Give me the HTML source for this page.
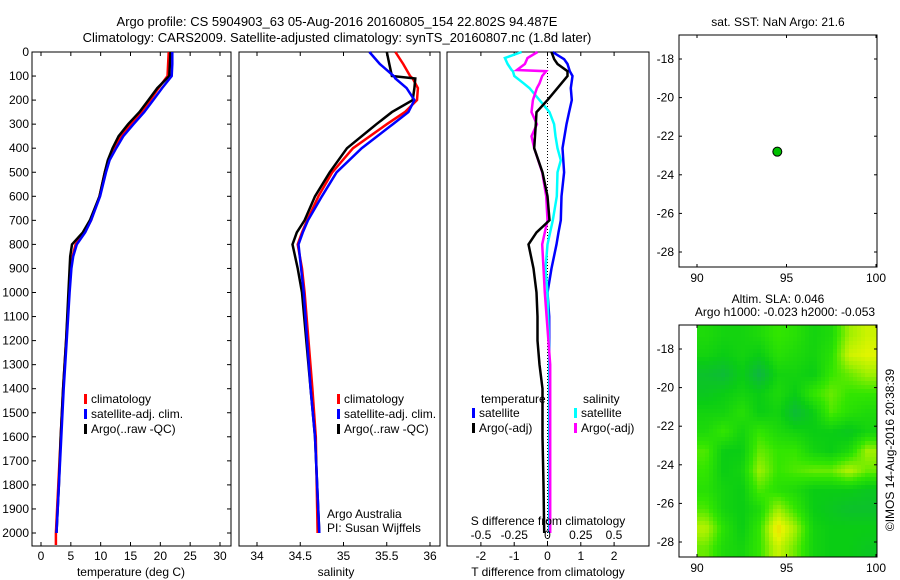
<!DOCTYPE html>
<html><head><meta charset="utf-8"><style>
body{margin:0;background:#fff}
svg{display:block;font-family:"Liberation Sans",sans-serif}
text{font-size:12px;fill:#000}
</style></head><body>
<svg id="fig" width="900" height="580" viewBox="0 0 900 580">
<text x="337" y="26" text-anchor="middle" style="font-size:13px">Argo profile: CS 5904903_63 05-Aug-2016 20160805_154 22.802S 94.487E</text>
<text x="337" y="42" text-anchor="middle" style="font-size:13px">Climatology: CARS2009. Satellite-adjusted climatology: synTS_20160807.nc (1.8d later)</text>
<g id="g"></g>
</svg>
<script>
// ---------- data ----------
const depthTicks=[0,100,200,300,400,500,600,700,800,900,1000,1100,1200,1300,1400,1500,1600,1700,1800,1900,2000];
const tTicks=[0,5,10,15,20,25,30];
const sTicks=[34,34.5,35,35.5,36];
const dTTicks=[-2,-1,0,1,2];
const dSTicks=[-0.5,-0.25,0,0.25,0.5];
const dSTickLabels=["-0.5","-0.25","0","0.25","0.5"];
const lonTicks=[90,95,100];
const latTicks=[-18,-20,-22,-24,-26,-28];

const depthT=[0,50,100,150,200,250,300,350,400,450,500,600,700,750,800,850,900,1000,1200,1400,1600,1800,2000,2050];
const tempArgo=[21.7,21.6,21.5,19.5,18,16.5,14.6,13,12,11.2,10.7,9.8,8.2,7,5.2,4.9,4.8,4.6,4.2,3.7,3.3,3.0,2.6,2.6];
const tempClim=[21.4,21.3,21.2,19.7,18.3,16.8,15,13.4,12.3,11.3,10.7,9.8,8.4,7.3,5.8,5.3,5.0,4.7,4.2,3.7,3.3,2.9,2.5,2.5];
const tempSat=[22,22,21.9,20.3,18.8,17.3,15.5,13.8,12.6,11.5,10.9,9.9,8.4,7.4,6.0,5.4,5.1,4.8,4.3,3.8,3.4,3.0,2.6,2.6];

const depthS=[0,50,100,110,150,200,250,300,400,500,600,700,750,800,900,1000,1400,1600,2000];
const salArgo=[35.50,35.53,35.56,35.83,35.82,35.80,35.56,35.38,35.04,34.84,34.67,34.55,34.46,34.41,34.47,34.52,34.62,34.67,34.72];
const salClim=[35.60,35.69,35.77,35.80,35.86,35.85,35.71,35.50,35.11,34.87,34.71,34.58,34.52,34.47,34.52,34.55,34.64,34.68,34.70];
const salSat=[35.30,35.42,35.58,35.60,35.73,35.82,35.75,35.57,35.21,34.92,34.75,34.59,34.53,34.48,34.51,34.54,34.62,34.67,34.72];

const depthDT=[0,30,50,80,100,150,200,250,300,400,500,600,700,750,800,900,1000,1100,1200,1300,1400,1600,1800,2000];
const dTSat=[0.15,0.5,0.6,0.67,0.75,0.7,0.73,0.65,0.57,0.45,0.5,0.42,0.4,0.33,0.27,0.12,0.0,0.05,0.05,0.05,0.05,0.05,0.05,0.05];
const dTArgo=[0.12,0.2,0.3,0.6,0.6,0.3,0.0,-0.33,-0.35,-0.4,-0.15,0.0,0.06,-0.33,-0.57,-0.42,-0.33,-0.3,-0.3,-0.24,-0.15,-0.15,-0.12,-0.1];

const depthDS=[0,25,50,75,80,100,130,150,200,250,300,350,400,450,500,600,700,800,900,1000,1300,1600,2000];
const dSSat=[-0.195,-0.32,-0.3,-0.27,-0.26,-0.25,-0.18,-0.135,-0.06,0.015,0.05,0.06,0.075,0.1,0.075,0.07,0.04,0.0,-0.015,0.0,0.015,0.015,0.015];
const dSArgo=[-0.075,-0.15,-0.17,-0.23,-0.01,-0.04,-0.06,-0.08,-0.11,-0.12,-0.08,-0.12,-0.1,-0.07,-0.04,-0.01,0.0,-0.04,-0.03,-0.02,0.02,0.02,0.02];

const floatLon=94.487, floatLat=-22.802;
const slaLons=[90.5,91.5,92.5,93.5,94.5,95.5,96.5,97.5,98.5,99.5];
const slaLats=[-17.3,-18.3,-19.3,-20.3,-21.3,-22.3,-23.3,-24.3,-25.3,-26.3,-27.3,-28.3];
const slaGrid=[
[0.4,0.35,0.35,0.4,0.5,0.45,0.35,0.4,0.7,0.8],
[0.35,0.3,0.35,0.3,0.45,0.4,0.35,0.45,0.8,0.85],
[0.2,0.15,0.3,0.1,0.35,0.35,0.3,0.5,0.6,0.7],
[0.25,0.3,0.35,0.3,0.4,0.3,0.5,0.6,0.5,0.5],
[0.35,0.35,0.45,0.3,0.35,0.15,0.3,0.55,0.45,0.4],
[0.4,0.5,0.35,0.5,0.4,0.35,0.3,0.3,0.25,0.35],
[0.55,0.3,0.3,0.6,0.5,0.5,0.35,0.3,0.4,0.7],
[0.5,0.3,0.35,0.7,0.5,0.55,0.6,0.6,0.75,0.6],
[0.45,0.35,0.3,0.55,0.45,0.4,0.3,0.3,0.3,0.25],
[0.55,0.35,0.3,0.4,0.7,0.5,0.3,0.25,0.2,0.2],
[0.75,0.45,0.3,0.5,0.95,0.7,0.35,0.3,0.3,0.3],
[0.6,0.4,0.35,0.5,0.8,0.6,0.35,0.3,0.3,0.25]];

// ---------- helpers ----------
const NS="http://www.w3.org/2000/svg";
const G=document.getElementById('g');
function mk(tag,attrs,txt){const e=document.createElementNS(NS,tag);for(const k in attrs)e.setAttribute(k,attrs[k]);if(txt!==undefined)e.textContent=txt;G.appendChild(e);return e;}
const TOP=52,BOT=546;
const yD=d=>TOP+d*(533-52)/2000;
const xT=t=>41+t*(220-41)/30;
const xS=s=>257+(s-34)*(430-257)/2;
const xDT=v=>547.5+v*33.3;
const xDS=v=>547.5+v*133;
const xLon=l=>697+(l-90)*17.9;
const yLat1=l=>59+(-18-l)*19.3;
const yLat2=l=>349+(-18-l)*19.3;

function frame(x0,x1,y0,y1,name){
  const r=mk('rect',{x:x0,y:y0,width:x1-x0,height:y1-y0,fill:'none',stroke:'#000','stroke-width':1});
  
  
}
function line(xs,ds,fx,color,name,w){
  const pts=xs.map((v,i)=>fx(v).toFixed(1)+','+yD(ds[i]).toFixed(1)).join(' ');
  const p=mk('polyline',{points:pts,fill:'none',stroke:color,'stroke-width':w||2.5,'stroke-linejoin':'miter'});
  
  
}
function xticks(ticks,labels,fx,x0,x1,name){
  ticks.forEach((t,i)=>{
    const x=fx(t);
    mk('line',{x1:x,x2:x,y1:BOT,y2:BOT-4,stroke:'#000'});
    mk('line',{x1:x,x2:x,y1:TOP,y2:TOP+4,stroke:'#000'});
    const tx=mk('text',{x:x,y:BOT+14,'text-anchor':'middle'},labels[i]);
    
    
  });
}
function legendEntry(x,y,color,label,name){
  mk('rect',{x:x,y:y-9,width:3,height:10,fill:color});
  const t=mk('text',{x:x+7,y:y},label);
  
  
}

// ---------- panel 1: temperature ----------
frame(32,231,TOP,BOT,'temperature-axes');
depthTicks.forEach(d=>{
  mk('line',{x1:32,x2:36,y1:yD(d),y2:yD(d),stroke:'#000'});
  mk('line',{x1:231,x2:227,y1:yD(d),y2:yD(d),stroke:'#000'});
  const t=mk('text',{x:29,y:yD(d)+4,'text-anchor':'end'},String(d));
  
  
});
xticks(tTicks,tTicks.map(String),xT,32,231,'temperature');
line(tempClim,depthT,xT,'#ff0000','temperature-climatology-line');
line(tempArgo.slice(0,23),depthT.slice(0,23),xT,'#000000','temperature-argo-line');
line(tempSat.slice(0,23),depthT.slice(0,23),xT,'#0000ff','temperature-satellite-line');
mk('text',{x:131,y:576,'text-anchor':'middle'},'temperature (deg C)');
legendEntry(84,403,'#ff0000','climatology','legend-climatology');
legendEntry(84,418,'#0000ff','satellite-adj. clim.','legend-satellite-adj');
legendEntry(84,433,'#000000','Argo(..raw -QC)','legend-argo');

// ---------- panel 2: salinity ----------
frame(239,440,TOP,BOT,'salinity-axes');
xticks(sTicks,sTicks.map(String),xS,239,440,'salinity');
line(salClim,depthS,xS,'#ff0000','salinity-climatology-line');
line(salArgo,depthS,xS,'#000000','salinity-argo-line');
line(salSat,depthS,xS,'#0000ff','salinity-satellite-line');
mk('text',{x:336,y:576,'text-anchor':'middle'},'salinity');
legendEntry(337,403,'#ff0000','climatology','legend-climatology-2');
legendEntry(337,418,'#0000ff','satellite-adj. clim.','legend-satellite-adj-2');
legendEntry(337,433,'#000000','Argo(..raw -QC)','legend-argo-2');
mk('text',{x:327,y:518},'Argo Australia');
mk('text',{x:327,y:532},'PI: Susan Wijffels');

// ---------- panel 3: differences ----------
frame(447,649,TOP,BOT,'difference-axes');
xticks(dTTicks,dTTicks.map(String),xDT,447,649,'t-difference');
mk('line',{x1:547.5,x2:547.5,y1:TOP,y2:BOT,stroke:'#000','stroke-dasharray':'1,2'});
line(dTSat,depthDT,xDT,'#0000ff','t-diff-satellite-line');
line(dSSat,depthDS,xDS,'#00ffff','s-diff-satellite-line');
line(dSArgo,depthDS,xDS,'#ff00ff','s-diff-argo-line');
line(dTArgo,depthDT,xDT,'#000000','t-diff-argo-line');
dSTicks.forEach((t,i)=>{
  const tx=mk('text',{x:xDS(t),y:539,'text-anchor':'middle'},dSTickLabels[i]);
  
  
});
mk('text',{x:548,y:525,'text-anchor':'middle'},'S difference from climatology');
mk('text',{x:548,y:576,'text-anchor':'middle'},'T difference from climatology');
mk('text',{x:481,y:403},'temperature');
mk('text',{x:583,y:403},'salinity');
legendEntry(472,417,'#0000ff','satellite','legend-t-satellite');
legendEntry(472,432,'#000000','Argo(-adj)','legend-t-argo');
legendEntry(574,417,'#00ffff','satellite','legend-s-satellite');
legendEntry(574,432,'#ff00ff','Argo(-adj)','legend-s-argo');

// ---------- map axes ----------
function mapAxes(y0,y1,yLat,name){
  frame(679,877,y0,y1,name);
  lonTicks.forEach(l=>{
    const x=xLon(l);
    mk('line',{x1:x,x2:x,y1:y1,y2:y1-3,stroke:'#000'});
    mk('line',{x1:x,x2:x,y1:y0,y2:y0+3,stroke:'#000'});
    const t=mk('text',{x:x,y:y1+15,'text-anchor':'middle'},String(l));
    
    
  });
  latTicks.forEach(l=>{
    const y=yLat(l);
    mk('line',{x1:679,x2:682,y1:y,y2:y,stroke:'#000'});
    mk('line',{x1:877,x2:874,y1:y,y2:y,stroke:'#000'});
    const t=mk('text',{x:674,y:y+4,'text-anchor':'end'},String(l));
    
    
  });
}
mapAxes(35,267,yLat1,'sst-map-axes');
mk('text',{x:778,y:26,'text-anchor':'middle'},'sat. SST: NaN Argo: 21.6');
const dot=mk('circle',{cx:xLon(floatLon),cy:yLat1(floatLat),r:4.5,fill:'#00c000',stroke:'#000','stroke-width':1});



// ---------- map 2 (SLA), bilinear-smoothed ----------
function slaColor(v){
  const stops=[[0,[16,170,90]],[0.3,[10,205,20]],[0.5,[50,230,0]],[0.7,[160,240,0]],[0.85,[225,245,0]],[1,[245,210,0]]];
  v=Math.max(0,Math.min(1,v));
  for(let i=1;i<stops.length;i++){if(v<=stops[i][0]){const a=stops[i-1],b=stops[i];const f=(v-a[0])/(b[0]-a[0]);return 'rgb('+a[1].map((c,j)=>Math.round(c+f*(b[1][j]-c))).join(',')+')';}}
  return 'rgb(245,210,0)';
}
function sampleSla(lon,lat){
  let fc=(lon-slaLons[0]);fc=Math.max(0,Math.min(slaLons.length-1.0001,fc));
  let fr=(slaLats[0]-lat);fr=Math.max(0,Math.min(slaLats.length-1.0001,fr));
  const c=Math.floor(fc),r=Math.floor(fr),u=fc-c,w=fr-r;
  const g=slaGrid;
  return g[r][c]*(1-u)*(1-w)+g[r][c+1]*u*(1-w)+g[r+1][c]*(1-u)*w+g[r+1][c+1]*u*w;
}
const SUB=4;
for(let yy=325;yy<557;yy+=SUB){
  for(let xx=697;xx<877;xx+=SUB){
    const lon=90+(xx+SUB/2-697)/17.9, lat=-18-(yy+SUB/2-349)/19.3;
    const cell=mk('rect',{x:xx,y:yy,width:Math.min(SUB,877-xx)+0.3,height:Math.min(SUB,557-yy)+0.3,fill:slaColor(sampleSla(lon,lat))});
    
    
  }
}
mapAxes(325,557,yLat2,'sla-map-axes');
mk('text',{x:778,y:303,'text-anchor':'middle'},'Altim. SLA: 0.046');
mk('text',{x:785,y:316,'text-anchor':'middle'},'Argo h1000: -0.023 h2000: -0.053');
const cr=mk('text',{x:0,y:0,'text-anchor':'middle',transform:'translate(894,450) rotate(-90)'},'©IMOS 14-Aug-2016 20:38:39');


</script>
</body></html>
